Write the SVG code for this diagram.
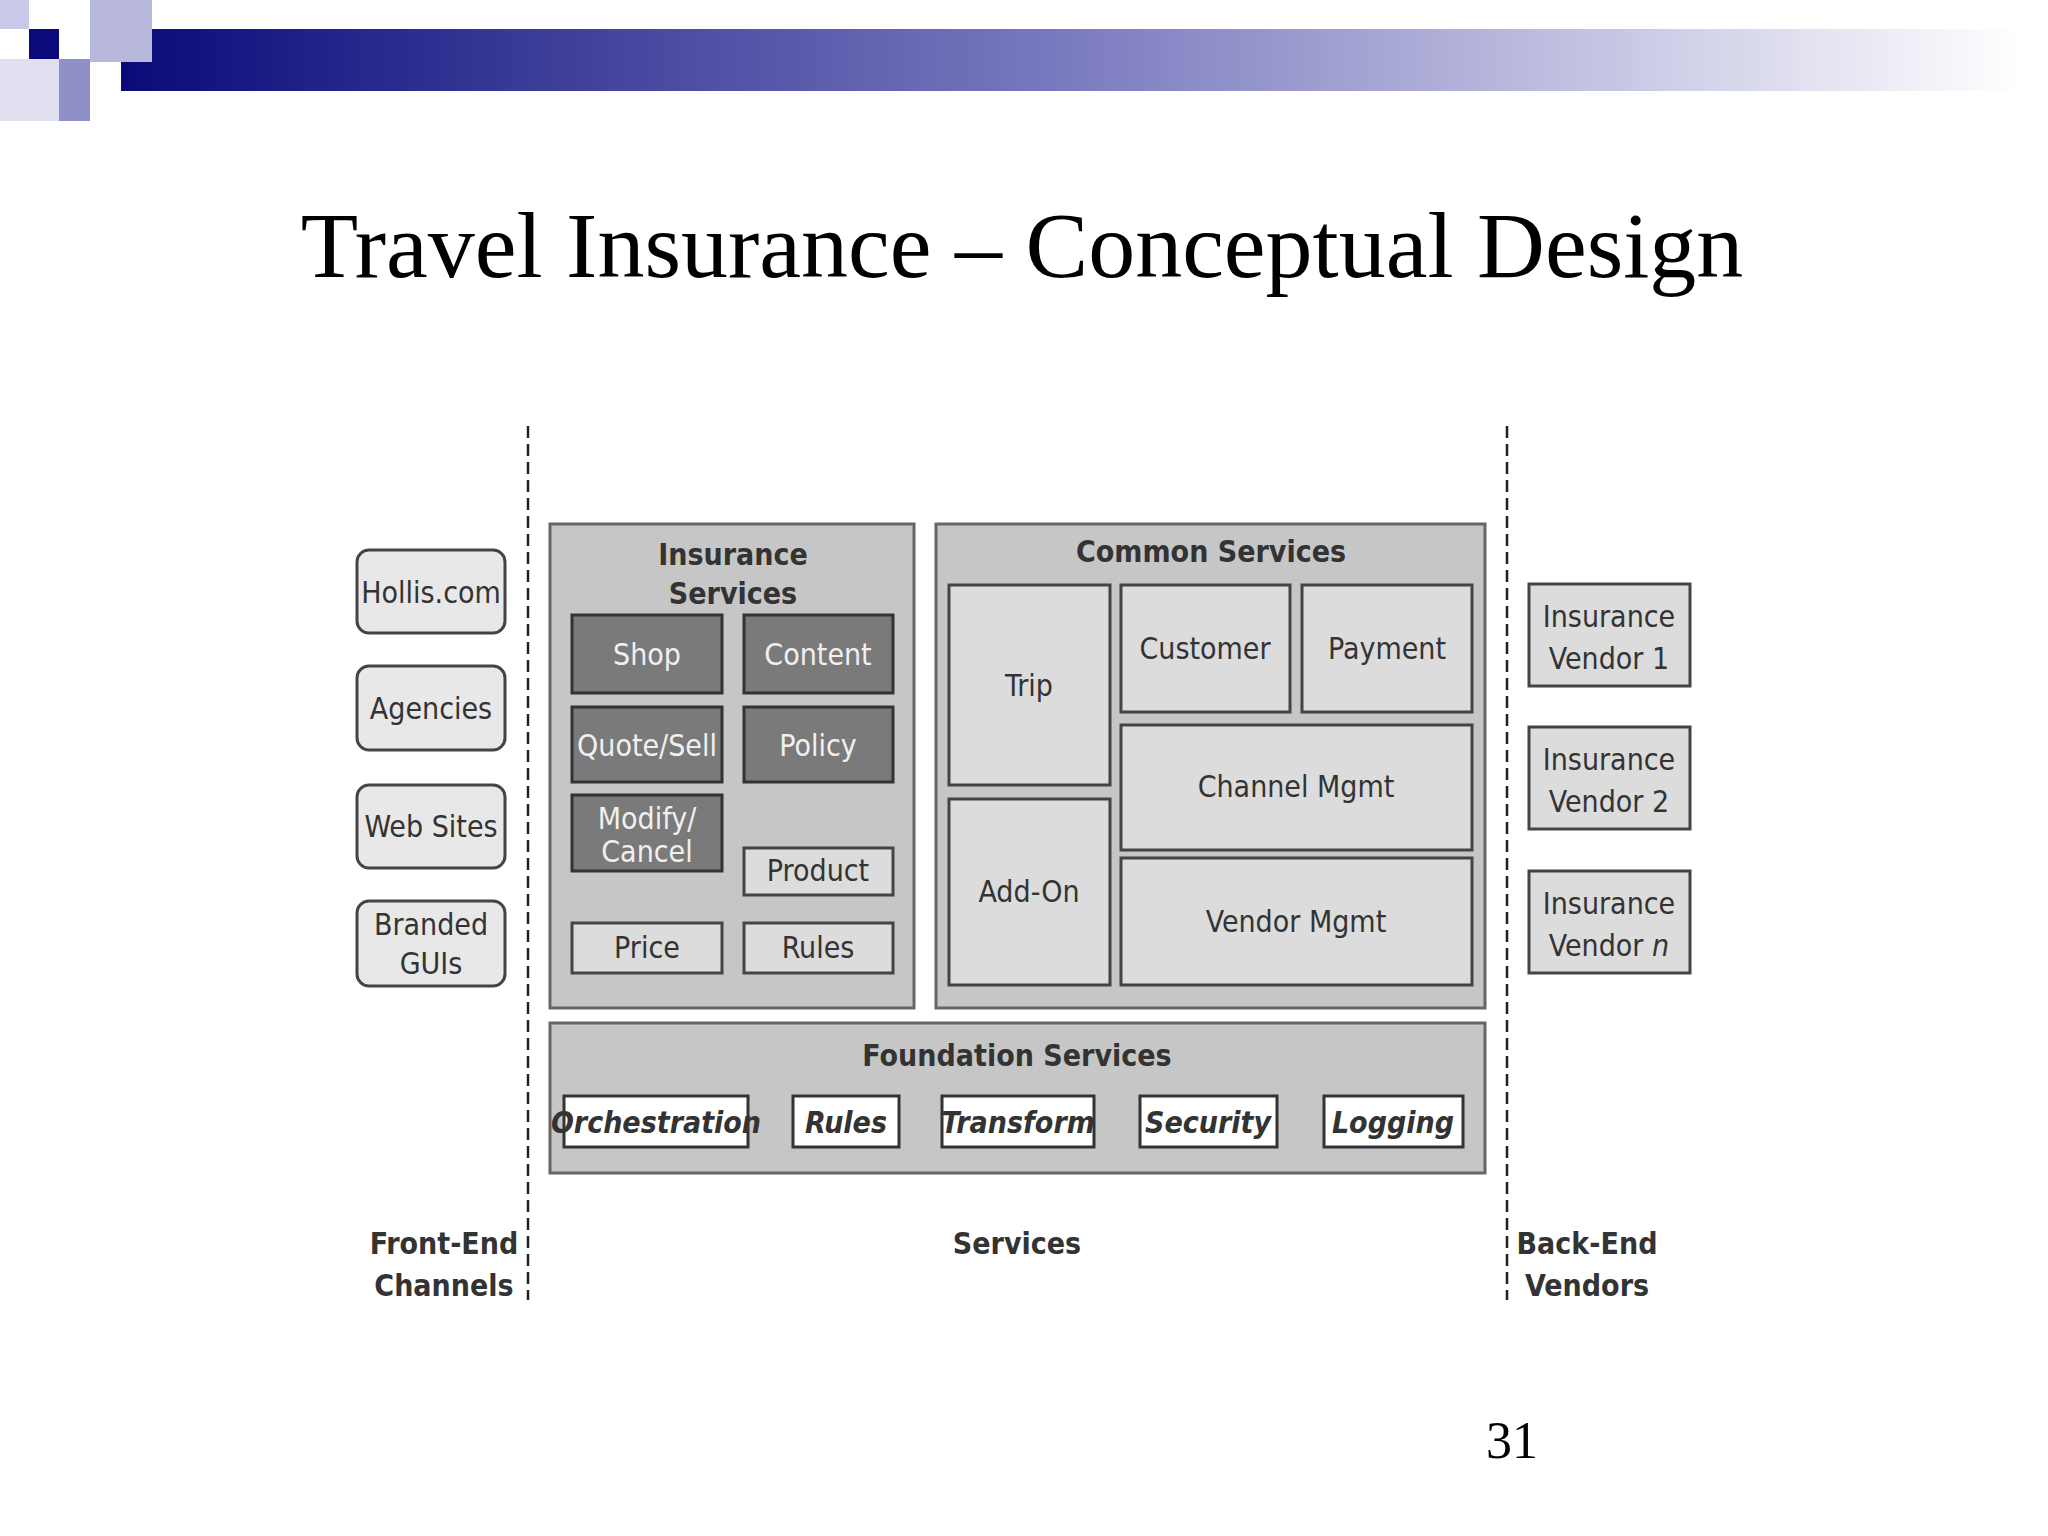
<svg xmlns="http://www.w3.org/2000/svg" width="2048" height="1536" viewBox="0 0 2048 1536">
<defs>
<linearGradient id="hdr" x1="0" x2="1" y1="0" y2="0">
<stop offset="0" stop-color="#0a0a7a"/><stop offset="0.5" stop-color="#7b7bc0"/><stop offset="1" stop-color="#ffffff"/>
</linearGradient>
<style>
text{font-family:"DejaVu Sans Condensed","Liberation Sans",sans-serif;fill:#333;text-anchor:middle;font-size:30px}
.b{font-weight:bold}
.dk rect{fill:#7a7a7a;stroke:#333;stroke-width:3}
.dk text{fill:#f0f0f0}
.lt rect{fill:#dcdcdc;stroke:#444;stroke-width:3}
.pill rect{fill:#e8e8e8;stroke:#444;stroke-width:3}
.cont{fill:#c6c6c6;stroke:#666;stroke-width:3}
.fi rect{fill:#fff;stroke:#333;stroke-width:3}
.fi text{font-style:italic;font-weight:bold;fill:#333}
.dash{stroke:#222;stroke-width:2.5;stroke-dasharray:12 6}
</style>
</defs>
<rect width="2048" height="1536" fill="#fff"/>
<rect x="121" y="29" width="1900" height="62" fill="url(#hdr)"/>
<rect x="29" y="29" width="30" height="30" fill="#0a0a7a"/>
<rect x="0" y="0" width="29" height="29" fill="#c8c8e8"/>
<rect x="90" y="0" width="62" height="62" fill="#b8b8dc"/>
<rect x="59" y="59" width="31" height="62" fill="#9090c8"/>
<rect x="0" y="59" width="59" height="62" fill="#e0e0f0"/>
<text x="1022" y="277" style="font-family:'Liberation Serif',serif;font-size:94px;fill:#000">Travel Insurance – Conceptual Design</text>
<text x="1512" y="1458" style="font-family:'Liberation Serif',serif;font-size:52px;fill:#000">31</text>
<g id="dividers"><line class="dash" x1="528" y1="426" x2="528" y2="1300"/><line class="dash" x1="1507" y1="426" x2="1507" y2="1300"/></g>
<g id="front" class="pill">
<g id="hollis"><rect x="357" y="550" width="148" height="83" rx="12"/><text x="431" y="603">Hollis.com</text></g>
<g id="agencies"><rect x="357" y="666" width="148" height="84" rx="12"/><text x="431" y="719">Agencies</text></g>
<g id="websites"><rect x="357" y="785" width="148" height="83" rx="12"/><text x="431" y="837">Web Sites</text></g>
<g id="branded"><rect x="357" y="901" width="148" height="85" rx="12"/><text x="431" y="935">Branded</text><text x="431" y="974">GUIs</text></g>
</g>
<g id="insurance">
<rect class="cont" x="550" y="524" width="364" height="484"/>
<text class="b" x="733" y="565">Insurance</text><text class="b" x="733" y="604">Services</text>
<g class="dk"><rect x="572" y="615" width="150" height="78"/><text x="647" y="665">Shop</text></g>
<g class="dk"><rect x="744" y="615" width="149" height="78"/><text x="818" y="665">Content</text></g>
<g class="dk"><rect x="572" y="707" width="150" height="75"/><text x="647" y="756">Quote/Sell</text></g>
<g class="dk"><rect x="744" y="707" width="149" height="75"/><text x="818" y="756">Policy</text></g>
<g class="dk"><rect x="572" y="795" width="150" height="76"/><text x="647" y="829">Modify/</text><text x="647" y="862">Cancel</text></g>
<g class="lt"><rect x="744" y="848" width="149" height="47"/><text x="818" y="881">Product</text></g>
<g class="lt"><rect x="572" y="923" width="150" height="50"/><text x="647" y="958">Price</text></g>
<g class="lt"><rect x="744" y="923" width="149" height="50"/><text x="818" y="958">Rules</text></g>
</g>
<g id="common">
<rect class="cont" x="936" y="524" width="549" height="484"/>
<text class="b" x="1211" y="562">Common Services</text>
<g class="lt"><rect x="949" y="585" width="161" height="200"/><text x="1029" y="696">Trip</text></g>
<g class="lt"><rect x="949" y="799" width="161" height="186"/><text x="1029" y="902">Add-On</text></g>
<g class="lt"><rect x="1121" y="585" width="169" height="127"/><text x="1205" y="659">Customer</text></g>
<g class="lt"><rect x="1302" y="585" width="170" height="127"/><text x="1387" y="659">Payment</text></g>
<g class="lt"><rect x="1121" y="725" width="351" height="125"/><text x="1296" y="797">Channel Mgmt</text></g>
<g class="lt"><rect x="1121" y="858" width="351" height="127"/><text x="1296" y="932">Vendor Mgmt</text></g>
</g>
<g id="foundation">
<rect class="cont" x="550" y="1023" width="935" height="150"/>
<text class="b" x="1017" y="1066">Foundation Services</text>
<g class="fi"><rect x="564" y="1096" width="184" height="51"/><text x="656" y="1133">Orchestration</text></g>
<g class="fi"><rect x="793" y="1096" width="106" height="51"/><text x="846" y="1133">Rules</text></g>
<g class="fi"><rect x="942" y="1096" width="152" height="51"/><text x="1018" y="1133">Transform</text></g>
<g class="fi"><rect x="1140" y="1096" width="137" height="51"/><text x="1208" y="1133">Security</text></g>
<g class="fi"><rect x="1324" y="1096" width="139" height="51"/><text x="1393" y="1133">Logging</text></g>
</g>
<g id="vendors" class="lt">
<g id="v1"><rect x="1529" y="584" width="161" height="102"/><text x="1609" y="627">Insurance</text><text x="1609" y="669">Vendor 1</text></g>
<g id="v2"><rect x="1529" y="727" width="161" height="102"/><text x="1609" y="770">Insurance</text><text x="1609" y="812">Vendor 2</text></g>
<g id="vn"><rect x="1529" y="871" width="161" height="102"/><text x="1609" y="914">Insurance</text><text x="1609" y="956">Vendor <tspan font-style="italic">n</tspan></text></g>
</g>
<g id="labels" class="b">
<text class="b" x="444" y="1254">Front-End</text><text class="b" x="444" y="1296">Channels</text>
<text class="b" x="1017" y="1254">Services</text>
<text class="b" x="1587" y="1254">Back-End</text><text class="b" x="1587" y="1296">Vendors</text>
</g>
</svg>
